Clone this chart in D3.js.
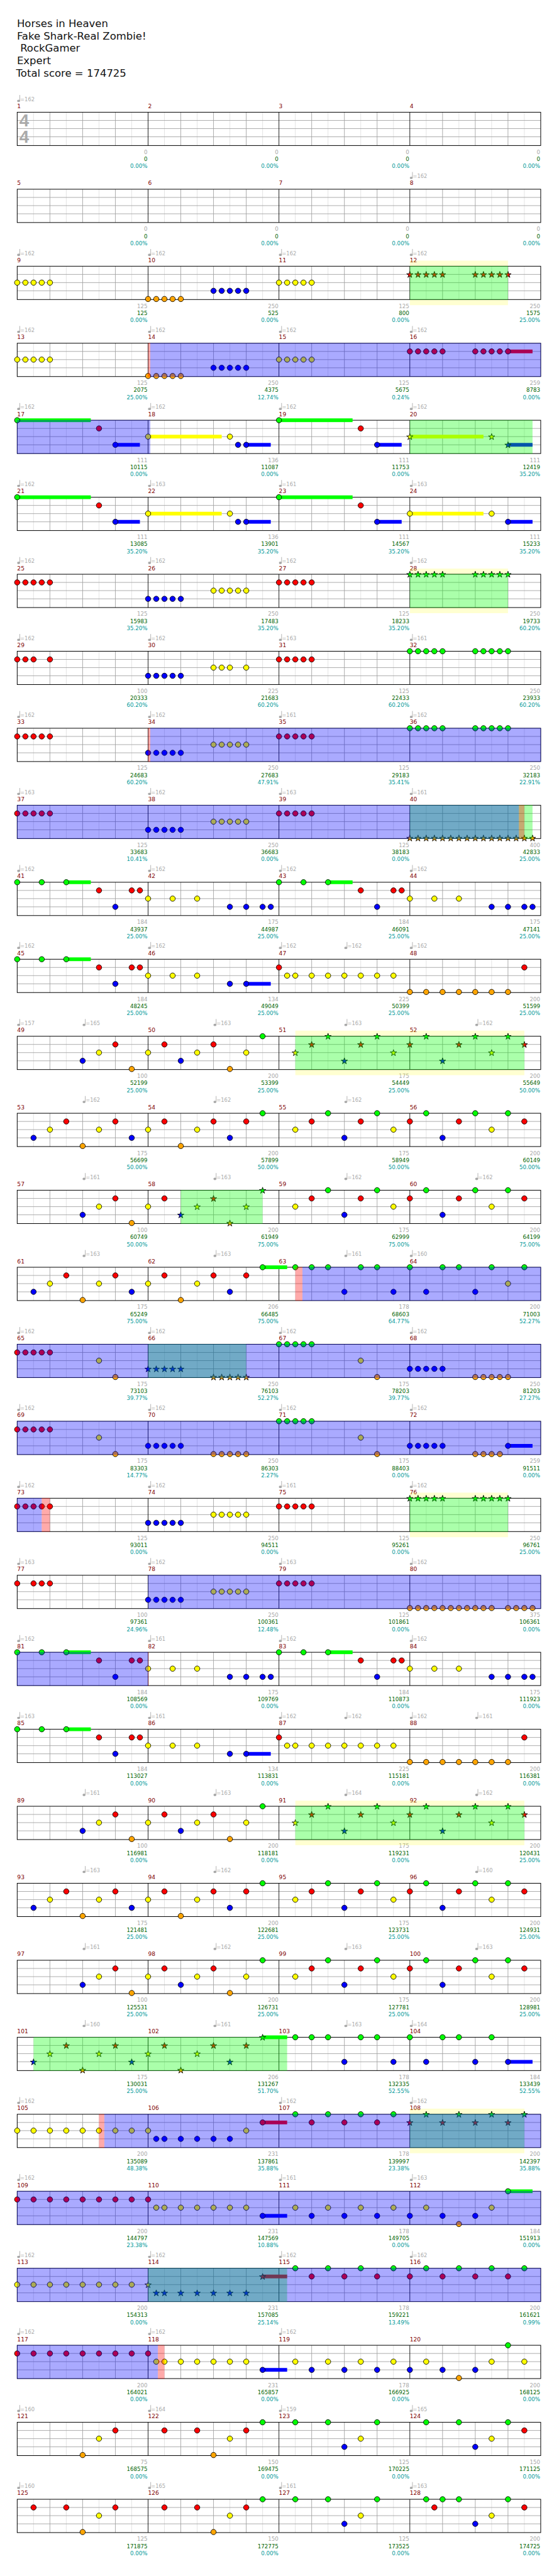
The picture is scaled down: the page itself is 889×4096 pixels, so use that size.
<!DOCTYPE html>
<html><head><meta charset="utf-8">
<style>html,body{margin:0;padding:0;background:#fff}svg{display:block}text{font-family:"DejaVu Sans",sans-serif}</style>
<script src="https://cdn.jsdelivr.net/npm/d3@7"></script>
</head><body><div id="chart"></div>
<script>
const titleLines = ["Horses in Heaven","Fake Shark-Real Zombie!"," RockGamer","Expert","Total score = 174725"];

// [measure, sixteenth, sixteenth, ...]
const greenNotes = [[17,0],[19,0],[21,0],[23,0],[28,0,1,2,3,4,8,9,10,11,12],[32,0,1,2,3,4,8,9,10,11,12],[36,0,1,2,3,4,8,9,10,11,12],[41,0,3,6],[43,0,3,6],[45,0,3,6],[50,14],[51,6,12],[52,2,8,12],[54,14],[55,6,12],[56,2,8,12],[58,14],[59,6,12],[60,2,8,12],[62,14],[63,2,4,6,10,12],[64,0,4,6,10,14],[67,0,1,2,3,4],[71,0,1,2,3,4],[76,0,1,2,3,4,8,9,10,11,12],[81,0,3,6],[83,0,3,6],[85,0,3,6],[90,14],[91,6,12],[92,2,8,12],[94,14],[95,6,12],[96,2,8,12],[98,14],[99,6,12],[100,2,8,12],[102,14],[103,2,4,6,10,12],[104,0,4,6,10],[107,2,6,10,14],[108,2,6,10,14],[112,12],[115,2,6,10,14],[116,2,6,10,14],[120,12],[122,14],[123,2,6,12],[124,2,6,12],[126,14],[127,2,6,12],[128,2,4,6,12]];
const redNotes = [[12,0,1,2,3,4,8,9,10,11,12],[16,0,1,2,3,4,8,9,10,11,12],[17,10],[19,10],[21,10],[23,10],[25,0,1,2,3,4],[27,0,1,2,3,4],[29,0,1,2,4],[31,0,1,2,3,4],[33,0,1,2,3,4],[35,0,1,2,3,4],[37,0,1,2,3,4],[39,0,1,2,3,4],[41,10,14,15],[43,10,14,15],[45,10,14,15],[47,0],[48,14],[49,12],[50,2,8],[51,4,10],[52,0,6,14],[53,6,12],[54,2,8,12],[55,4,10],[56,0,6,14],[57,12],[58,2,8],[59,4,10],[60,0,6,14],[61,6,12],[62,2,8,12],[65,0,1,2,3,4],[69,0,1,2,3,4],[73,0,1,2,3,4],[75,0,1,2,3,4],[77,0,2,3,4],[79,0,1,2,3,4],[81,10,14,15],[83,10,14,15],[85,10,14,15],[87,0],[88,14],[89,12],[90,2,8],[91,4,10],[92,0,6,14],[93,6,12],[94,2,8,12],[95,4,10],[96,0,6,14],[97,12],[98,2,8],[99,4,10],[100,0,6,14],[101,6,12],[102,2,8,12],[106,14],[107,4,8,12],[108,0,4,8,12],[109,0,2,4,6,8,10,12,14],[110,0],[114,14],[115,4,8,12],[116,0,4,8,12],[117,0,2,4,6,8,10,12,14],[118,0],[121,12],[122,2,6,12],[124,14],[125,2,6,12],[126,2,6,12],[128,3,14]];
const yellowNotes = [[9,0,1,2,3,4],[11,0,1,2,3,4],[13,0,1,2,3,4],[15,0,1,2,3,4],[18,0,10],[20,0,10],[22,0,10],[24,0,10],[26,8,9,10,11,12],[30,8,9,10,12],[34,8,9,10,11,12],[38,8,9,10,11,12],[42,0,3,6],[44,0,3,6],[46,0,3,6],[47,1,2,4,6,8,10,12,14],[49,10],[50,0,6,12],[51,2,14],[52,10],[53,4,10],[54,0,6],[55,2,14],[56,10],[57,10],[58,0,6,12],[59,2,14],[60,10],[61,4,10],[62,0,6],[64,12],[65,10],[67,10],[69,10],[71,10],[74,8,9,10,11,12],[78,8,9,10,11,12],[82,0,3,6],[84,0,3,6],[86,0,3,6],[87,1,2,4,6,8,10,12,14],[89,10],[90,0,6,12],[91,2,14],[92,10],[93,4,10],[94,0,6],[95,2,14],[96,10],[97,10],[98,0,6,12],[99,2,14],[100,10],[101,4,10],[102,0,6],[105,0,2,4,6,8,10,12,14],[106,0,12],[110,1,2,4,6,8,10,12],[111,2,6,10,14],[112,2,10],[113,0,2,4,6,8,10,12,14],[114,0],[118,1,2,4,6,8,10,12],[119,2,6,10,14],[120,2,10,14],[121,10],[122,10],[123,10],[124,10],[125,10],[126,10],[127,10],[128,10]];
const blueNotes = [[10,8,9,10,11,12],[14,8,9,10,11,12],[17,12],[18,11,12],[19,12],[20,12],[21,12],[22,11,12],[23,12],[24,12],[26,0,1,2,3,4],[30,0,1,2,3,4],[34,0,1,2,3,4],[38,0,1,2,3,4],[41,12],[42,10,12,14,15],[43,12],[44,10,12,14,15],[45,12],[46,10,12],[49,8],[50,4],[51,8],[52,4],[53,2,14],[54,10],[55,8],[56,4],[57,8],[58,4],[59,8],[60,4],[61,2,14],[62,10],[63,8,14],[64,2,8],[66,0,1,2,3,4],[68,0,1,2,3,4],[70,0,1,2,3,4],[72,0,1,2,3,4,12],[74,0,1,2,3,4],[78,0,1,2,3,4],[81,12],[82,10,12,14,15],[83,12],[84,10,12,14,15],[85,12],[86,10,12],[89,8],[90,4],[91,8],[92,4],[93,2,14],[94,10],[95,8],[96,4],[97,8],[98,4],[99,8],[100,4],[101,2,14],[102,10],[103,8,14],[104,2,8,12],[106,1,2,4,6,8,10],[110,14],[111,4,8,12],[112,0,4,8],[114,1,2,4,6,8,10,12],[118,14],[119,4,8,12],[120,0,4,8],[123,8],[124,8],[127,8],[128,8]];
const orangeNotes = [[10,0,1,2,3,4],[14,0,1,2,3,4],[40,0,1,2,3,4,5,6,7,8,9,10,11,12,13,14,15],[48,0,2,4,6,8,10,12],[49,14],[50,10],[53,8],[54,4],[57,14],[58,10],[61,8],[62,4],[65,12],[66,8,9,10,11,12],[67,12],[68,8,9,10,11,12],[69,12],[70,8,9,10,11,12],[71,12],[72,8,9,10,11],[80,0,1,2,3,4,5,6,7,8,9,10,12,13,14,15],[88,0,2,4,6,8,10,12],[89,14],[90,10],[93,8],[94,4],[97,14],[98,10],[101,8],[102,4],[112,6],[120,6],[121,8],[122,8],[125,8],[126,8]];

// [measure, sixteenth, lane, length in sixteenths]
const sustains = [[16,12,1,3],[17,0,0,9],[17,12,3,3],[18,0,2,9],[18,12,3,3],[19,0,0,9],[19,12,3,3],[20,0,2,9],[20,12,3,3],[21,0,0,9],[21,12,3,3],[22,0,2,9],[22,12,3,3],[23,0,0,9],[23,12,3,3],[24,0,2,9],[24,12,3,3],[41,6,0,3],[43,6,0,3],[45,6,0,3],[46,12,3,3],[62,14,0,3],[72,12,3,3],[81,6,0,3],[83,6,0,3],[85,6,0,3],[86,12,3,3],[102,14,0,3],[104,12,3,3],[106,14,1,3],[110,14,3,3],[112,12,0,3],[114,14,1,3],[118,14,3,3]];

// [start measure, start sixteenth, end measure, end sixteenth]
const starPhrases = [[12,0,12,12],[20,0,20,15],[28,0,28,12],[40,0,40,15],[51,2,52,14],[58,4,58,14],[66,0,66,12],[76,0,76,12],[91,2,92,14],[101,2,103,1],[108,0,108,14],[114,0,115,1]];
const yellowBands = [[12,0,12,12],[28,0,28,12],[51,2,52,14],[76,0,76,12],[91,2,92,14],[108,0,108,14]];
const blueSpans = [[14,0.27,18,0.27],[34,0.27,40,13.33],[63,2.87,73,3],[78,0,82,0],[105,10.65,118,1.2]];
const redSpans = [[14,0,14,0.27],[34,0,34,0.27],[40,13.33,40,14],[63,2,63,2.87],[73,3,73,4],[82,0,82,0.07],[105,10,105,10.65],[118,1.2,118,2]];

// [measure, beat, bpm]
const tempos = [[1,0,162],[8,0,162],[9,0,162],[10,0,162],[11,0,162],[12,0,162],[13,0,162],[14,0,162],[15,0,162],[16,0,162],[17,0,162],[18,0,162],[19,0,162],[20,0,162],[21,0,162],[22,0,163],[23,0,161],[24,0,163],[25,0,162],[26,0,162],[27,0,162],[28,0,162],[29,0,162],[30,0,162],[31,0,163],[32,0,161],[33,0,162],[34,0,162],[35,0,161],[36,0,162],[37,0,163],[38,0,162],[39,0,163],[40,0,161],[41,0,162],[42,0,162],[43,0,162],[44,0,162],[45,0,162],[46,0,162],[47,0,162],[47,2,162],[48,0,162],[49,0,157],[49,2,165],[50,2,163],[51,2,163],[52,2,162],[53,2,162],[54,2,162],[55,2,162],[57,2,161],[58,2,163],[59,2,162],[60,2,162],[61,2,163],[62,2,163],[63,2,161],[64,0,160],[65,0,162],[66,0,162],[67,0,162],[68,0,162],[69,0,162],[70,0,162],[71,0,162],[72,0,162],[73,0,162],[74,0,162],[75,0,161],[76,0,162],[77,0,163],[78,0,162],[79,0,163],[80,0,162],[81,0,162],[82,0,161],[83,0,162],[84,0,162],[85,0,163],[86,0,161],[87,0,162],[87,2,162],[88,0,162],[88,2,161],[89,2,161],[90,2,163],[91,2,164],[92,2,162],[93,2,163],[94,2,162],[96,2,160],[97,2,161],[98,2,162],[99,2,163],[100,2,163],[101,2,160],[102,2,161],[103,2,163],[104,0,164],[105,0,162],[107,0,162],[108,0,162],[109,0,162],[111,0,161],[112,0,163],[113,0,162],[114,0,162],[115,0,162],[116,0,162],[117,0,162],[118,0,162],[119,0,162],[121,0,160],[122,0,164],[123,0,159],[124,0,165],[125,0,160],[126,0,165],[127,0,161],[128,0,163]];

const measurePoints = [0,0,0,0,0,0,0,0,125,250,125,250,125,250,125,259,111,136,111,111,111,136,111,111,125,250,125,250,100,225,125,250,125,250,125,250,125,250,125,400,184,175,184,175,184,134,225,200,100,200,175,200,175,200,175,200,100,200,175,200,175,206,178,200,175,250,175,250,175,250,175,259,125,250,125,250,100,250,125,375,184,175,184,175,184,134,225,200,100,200,175,200,175,200,175,200,100,200,175,200,175,206,178,184,200,231,178,200,200,231,178,184,200,231,178,200,200,231,178,200,75,150,125,150,125,150,125,200];
const totalScores = [0,0,0,0,0,0,0,0,125,525,800,1575,2075,4375,5675,8783,10115,11087,11753,12419,13085,13901,14567,15233,15983,17483,18233,19733,20333,21683,22433,23933,24683,27683,29183,32183,33683,36683,38183,42833,43937,44987,46091,47141,48245,49049,50399,51599,52199,53399,54449,55649,56699,57899,58949,60149,60749,61949,62999,64199,65249,66485,68603,71003,73103,76103,78203,81203,83303,86303,88403,91511,93011,94511,95261,96761,97361,100361,101861,106361,108569,109769,110873,111923,113027,113831,115181,116381,116981,118181,119231,120431,121481,122681,123731,124931,125531,126731,127781,128981,130031,131267,132335,133439,135089,137861,139997,142397,144797,147569,149705,151913,154313,157085,159221,161621,164021,165857,166925,168125,168575,169475,170225,171125,171875,172775,173525,174725];
const percents = [0,0,0,0,0,0,0,0,0,0,0,25,25,12.74,0.24,0,0,0,0,35.2,35.2,35.2,35.2,35.2,35.2,35.2,35.2,60.2,60.2,60.2,60.2,60.2,60.2,47.91,35.41,22.91,10.41,0,0,25,25,25,25,25,25,25,25,25,25,25,25,50,50,50,50,50,50,75,75,75,75,75,64.77,52.27,39.77,52.27,39.77,27.27,14.77,2.27,0,0,0,0,0,25,24.96,12.48,0,0,0,0,0,0,0,0,0,0,0,0,0,25,25,25,25,25,25,25,25,25,25,51.7,52.55,52.55,48.38,35.88,23.38,35.88,23.38,10.88,0,0,0,25.14,13.49,0.99,0,0,0,0,0,0,0,0,0,0,0,0];

const laneColors = ["#00ff00","#ff0000","#ffff00","#0000ff","#ffa500"];

const W = 1024, H = 4717, PER_ROW = 64, SIX = 16, ROWS = 32;
const svg = d3.select("#chart").append("svg").attr("width",889).attr("height",4096).attr("viewBox",`0 0 ${W} ${H}`).attr("preserveAspectRatio","none");

const rowY = d3.scaleLinear().domain([0,ROWS-1]).range([205.5,4576.5]);
const x = d3.scaleLinear().domain([0,PER_ROW]).range([31.5,990.5]);
const y = d3.scaleLinear().domain([0,4]).range([0,60]);
const STAFF_H = 61;
const t = (m,p) => (m-1)*SIX + p;

const allNotes = [greenNotes,redNotes,yellowNotes,blueNotes,orangeNotes].flatMap((list,lane) =>
  list.flatMap(([m,...ps]) => ps.map(p => ({time:t(m,p),lane}))));
const phraseTimes = starPhrases.map(([a,b,c,d]) => [t(a,b),t(c,d)]);
allNotes.forEach(n => n.star = phraseTimes.some(([a,b]) => n.time>=a && n.time<=b));
allNotes.sort((a,b)=>a.time-b.time);
const sustainMarks = sustains.map(([m,p,lane,len]) => ({time:t(m,p),lane,len}));

function pieces(spans){
  const out=[];
  spans.forEach(([a,b,c,d])=>{
    const s=t(a,b), e=t(c,d);
    for(let r=Math.floor(s/PER_ROW); r<ROWS && r*PER_ROW<e; r++){
      const l=Math.max(s,r*PER_ROW), h=Math.min(e,(r+1)*PER_ROW);
      if(h>l) out.push({row:r,a:l-r*PER_ROW,b:h-r*PER_ROW});
    }
  });
  return out;
}
const bandPieces=pieces(yellowBands), greenPieces=pieces(starPhrases), bluePieces=pieces(blueSpans), redPieces=pieces(redSpans);

svg.append("g").selectAll("text").data(titleLines).join("text")
  .attr("x",(d,i)=> i===4?29.5:31).attr("y",(d,i)=>49+23*i)
  .attr("font-size",19).attr("fill","#111").attr("xml:space","preserve").style("white-space","pre").text(d=>d);

const star = d3.symbol().type(d3.symbolStar).size(42);

d3.range(ROWS).forEach(r=>{
  const g = svg.append("g").attr("transform",`translate(0,${rowY(r)})`);
  const base = r*PER_ROW;
  const measures = d3.range(4).map(i=>r*4+i);

  // measure numbers
  g.selectAll(".mn").data(measures).join("text").attr("class","mn")
    .attr("x",i=>x((i-r*4)*SIX)).attr("y",-7.5).attr("font-size",10.5).attr("fill","#800000").text(i=>i+1);

  // tempo markers
  const ts = tempos.filter(([m])=>Math.floor((m-1)/4)===r);
  const tg = g.selectAll(".tempo").data(ts).join("g").attr("class","tempo")
    .attr("transform",([m,b])=>`translate(${x(t(m,b*4)-base)},0)`);
  tg.append("ellipse").attr("cx",2.6).attr("cy",-20.8).attr("rx",2.7).attr("ry",2.2).attr("fill","#a8a8a8");
  tg.append("line").attr("x1",4.8).attr("x2",4.8).attr("y1",-31.5).attr("y2",-21).attr("stroke","#a8a8a8");
  tg.append("text").attr("x",5.5).attr("y",-20.5).attr("font-size",9.6).attr("fill","#aaa").text(d=>"="+d[2]);

  // score labels
  [[76.5,"#a8a8a8",i=>measurePoints[i]],[89.5,"#006400",i=>totalScores[i]],[102.5,"#009999",i=>percents[i].toFixed(2)+"%"]].forEach(([dy,col,fn])=>{
    g.append("g").selectAll("text").data(measures).join("text")
      .attr("x",i=>x((i-r*4+1)*SIX)-1).attr("y",dy).attr("text-anchor","end")
      .attr("font-size",10).attr("fill",col).text(fn);
  });

  // yellow band behind the staff
  g.selectAll(".band").data(bandPieces.filter(p=>p.row===r)).join("rect").attr("class","band")
    .attr("x",d=>x(d.a)).attr("width",d=>x(d.b)-x(d.a)).attr("y",-10.3).attr("height",STAFF_H+20.6)
    .attr("fill","#ffff00").attr("fill-opacity",0.18);

  // staff
  g.append("rect").attr("x",x(0)).attr("y",0).attr("width",x(PER_ROW)-x(0)).attr("height",STAFF_H).attr("fill","#fff");
  g.selectAll(".v").data(d3.range(1,PER_ROW/2).map(i=>i*2).filter(i=>i%16!==0).concat([])).join("line").attr("class","v")
    .attr("x1",d=>x(d)).attr("x2",d=>x(d)).attr("y1",0).attr("y2",STAFF_H)
    .attr("stroke",d=>d%4===0?"#a0a0a0":"#e0e0e0");
  g.selectAll(".h").data([1,2,3]).join("line").attr("class","h")
    .attr("x1",x(0)).attr("x2",x(PER_ROW)).attr("y1",d=>y(d)).attr("y2",d=>y(d)).attr("stroke","#a0a0a0");
  g.selectAll(".bar").data([16,32,48]).join("line").attr("class","bar")
    .attr("x1",d=>x(d)).attr("x2",d=>x(d)).attr("y1",0).attr("y2",STAFF_H).attr("stroke","#000").attr("stroke-width",1);
  g.append("rect").attr("x",x(0)).attr("y",0).attr("width",x(PER_ROW)-x(0)).attr("height",STAFF_H)
    .attr("fill","none").attr("stroke","#000").attr("stroke-width",1.15);

  if(r===0){
    g.selectAll(".ts").data([26.5,56.5]).join("text").attr("class","ts").attr("x",35.5).attr("y",d=>d)
      .attr("font-size",32).attr("font-weight","bold").attr("fill","#aaa").style("font-family","'Liberation Sans'").text("4");
  }

  // sustains
  g.selectAll(".sus").data(sustainMarks.filter(s=>Math.floor(s.time/PER_ROW)===r)).join("rect").attr("class","sus")
    .attr("x",d=>x(d.time-base)).attr("width",d=>x(d.time+d.len-base)-x(d.time-base))
    .attr("y",d=>y(d.lane)-3.4).attr("height",6.8).attr("fill",d=>laneColors[d.lane]);

  // notes
  const rowNotes = allNotes.filter(n=>Math.floor(n.time/PER_ROW)===r);
  g.selectAll(".note").data(rowNotes.filter(n=>!n.star)).join("circle").attr("class","note")
    .attr("cx",d=>x(d.time-base)).attr("cy",d=>y(d.lane)).attr("r",4.9)
    .attr("fill",d=>laneColors[d.lane]).attr("stroke","#000").attr("stroke-width",1);
  g.selectAll(".star").data(rowNotes.filter(n=>n.star)).join("path").attr("class","star")
    .attr("transform",d=>`translate(${x(d.time-base)},${y(d.lane)+0.6})`).attr("d",star)
    .attr("fill",d=>laneColors[d.lane]).attr("stroke","#000").attr("stroke-width",1);

  // translucent overlays, limited to the staff
  [[greenPieces,"#00ff00"],[bluePieces,"#0000ff"],[redPieces,"#ff0000"]].forEach(([list,col])=>{
    g.append("g").selectAll("rect").data(list.filter(p=>p.row===r)).join("rect")
      .attr("x",d=>x(d.a)-(d.a===0?0.5:0)).attr("width",d=>x(d.b)-x(d.a)+(d.a===0?0.5:0)+(d.b===PER_ROW?0.5:0))
      .attr("y",-0.5).attr("height",STAFF_H+1).attr("fill",col).attr("fill-opacity",1/3);
  });
});
</script></body></html>
